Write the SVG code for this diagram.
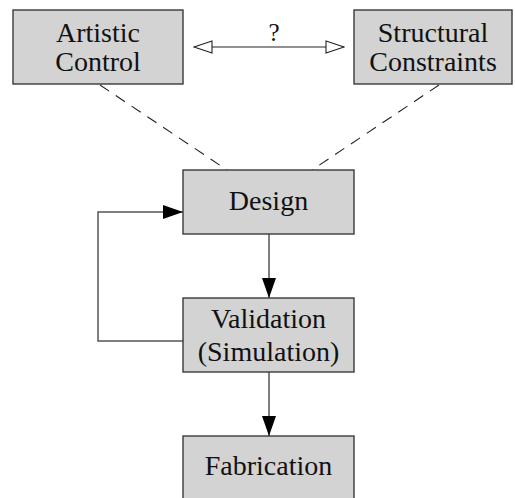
<svg xmlns="http://www.w3.org/2000/svg" width="515" height="498" viewBox="0 0 515 498">
<style>
.box{fill:#d3d3d3;stroke:#3a3a3a;stroke-width:1.4}
.t{font-family:"Liberation Serif","DejaVu Serif",serif;font-size:28px;fill:#111;text-anchor:middle}
.c{fill:none;stroke:#555;stroke-width:1.5}
.d{fill:none;stroke:#222;stroke-width:1.1;stroke-dasharray:11 8}
</style>
<defs>
<marker id="open" markerWidth="20" markerHeight="16" refX="19" refY="7" orient="auto-start-reverse" markerUnits="userSpaceOnUse" viewBox="0 0 20 14">
<path d="M1,1 L19,7 L1,13 Z" fill="#fff" stroke="#222" stroke-width="1.1"/>
</marker>
<marker id="solid" markerWidth="20" markerHeight="14" refX="20" refY="7" orient="auto" markerUnits="userSpaceOnUse" viewBox="0 0 20 14">
<path d="M0,0 L20,7 L0,14 Z" fill="#000"/>
</marker>
</defs>
<g id="connectors">
<line x1="194" y1="47" x2="344" y2="47" stroke="#222" stroke-width="1.1" marker-start="url(#open)" marker-end="url(#open)"/>
<text class="t" x="274" y="41" style="font-size:25px">?</text>
<line class="d" x1="100" y1="85" x2="227" y2="170"/>
<line class="d" x1="439" y1="85" x2="312" y2="170"/>
<line class="c" x1="269" y1="234" x2="269" y2="298" marker-end="url(#solid)"/>
<line class="c" x1="269" y1="372" x2="269" y2="436" marker-end="url(#solid)"/>
<polyline class="c" points="183,341 98,341 98,212 183,212" marker-end="url(#solid)"/>
</g>
<g id="artistic">
<rect class="box" x="13" y="10" width="170" height="74"/>
<text class="t" x="98" y="42">Artistic</text>
<text class="t" x="98" y="71">Control</text>
</g>
<g id="structural">
<rect class="box" x="354" y="10" width="158" height="74"/>
<text class="t" x="433" y="42">Structural</text>
<text class="t" x="433" y="71">Constraints</text>
</g>
<g id="design">
<rect class="box" x="183" y="170" width="171" height="64"/>
<text class="t" x="268.5" y="210">Design</text>
</g>
<g id="validation">
<rect class="box" x="183" y="298" width="171" height="74"/>
<text class="t" x="268.5" y="328">Validation</text>
<text class="t" x="268.5" y="361">(Simulation)</text>
</g>
<g id="fabrication">
<rect class="box" x="183" y="436" width="171" height="70"/>
<text class="t" x="268.5" y="475">Fabrication</text>
</g>
</svg>
